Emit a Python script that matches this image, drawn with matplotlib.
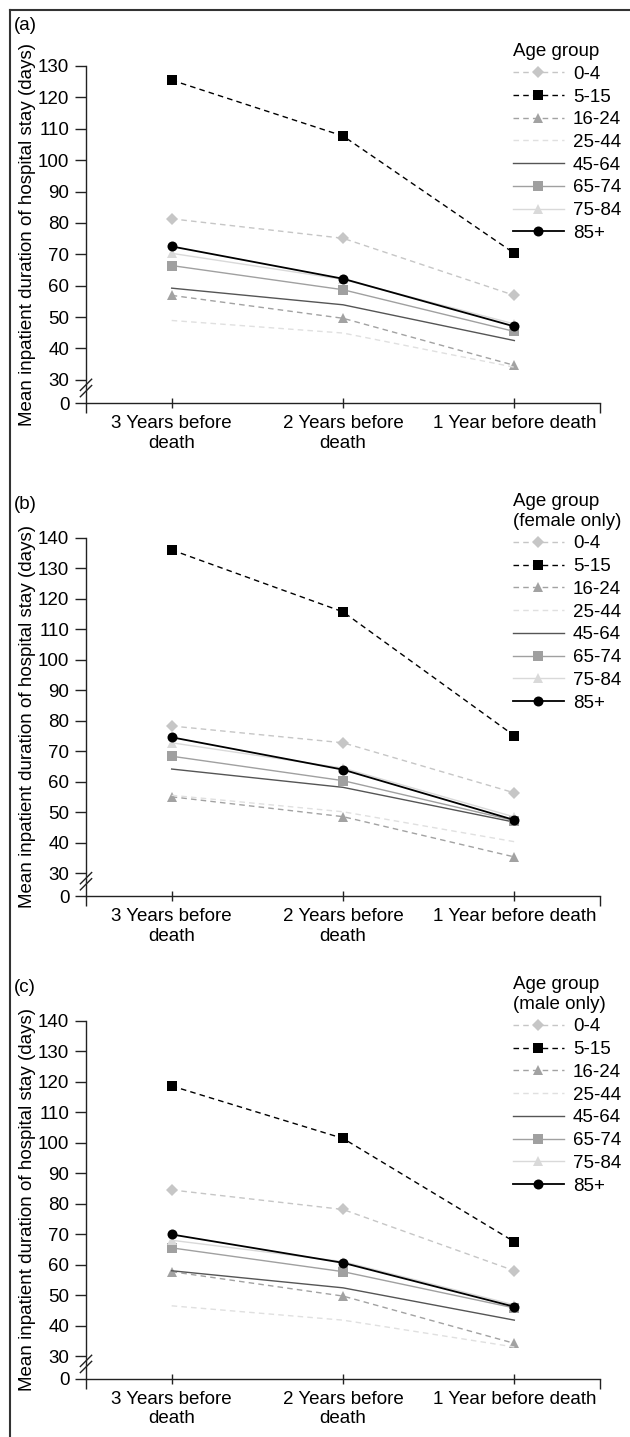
import matplotlib
matplotlib.use("Agg")
import matplotlib.pyplot as plt
import matplotlib.transforms as mtransforms
from matplotlib.lines import Line2D

plt.rcParams['font.family'] = ['Liberation Sans', 'DejaVu Sans']

periods = ["3 Years before\ndeath", "2 Years before\ndeath", "1 Year before death"]
groups = ["0-4", "5-15", "16-24", "25-44", "45-64", "65-74", "75-84", "85+"]

# values per age group, 3 yrs / 2 yrs / 1 yr before death
all_vals = [[81.3, 75.1, 56.9],
            [125.5, 107.7, 70.3],
            [56.9, 49.6, 34.6],
            [48.9, 44.9, 34.0],
            [59.2, 53.9, 42.5],
            [66.4, 58.7, 45.4],
            [70.3, 62.0, 47.8],
            [72.5, 62.2, 47.0]]
female_vals = [[78.3, 72.8, 56.4],
               [136.0, 115.7, 75.1],
               [55.1, 48.6, 35.4],
               [55.6, 50.2, 40.4],
               [64.2, 58.2, 46.8],
               [68.4, 60.4, 47.3],
               [72.8, 64.5, 48.5],
               [74.6, 64.0, 47.5]]
male_vals = [[84.5, 78.1, 58.0],
             [118.6, 101.4, 67.5],
             [57.7, 49.7, 34.2],
             [46.5, 41.8, 33.0],
             [58.0, 52.4, 41.8],
             [65.5, 57.7, 45.8],
             [68.0, 61.0, 46.8],
             [69.9, 60.6, 46.2]]

panels = [("(a)", "Age group", all_vals, 130),
          ("(b)", "Age group\n(female only)", female_vals, 140),
          ("(c)", "Age group\n(male only)", male_vals, 140)]

# style per age group: colour, dashed?, marker, size
styles = [("#c6c6c6", True, "D", 6.5),
          ("#000000", True, "s", 7.2),
          ("#a2a2a2", True, "^", 7.8),
          ("#e0e0e0", True, None, 0),
          ("#555555", False, None, 0),
          ("#a0a0a0", False, "s", 7.2),
          ("#d9d9d9", False, "^", 7.8),
          ("#000000", False, "o", 7.2)]

W, H = 630, 1437
fig = plt.figure(figsize=(W / 100, H / 100), dpi=100)

# frame round the figure (left and top edges)
fig.add_artist(Line2D([10 / W, 10 / W], [0, 1 - 10 / H], color="#333333", lw=1.5))
fig.add_artist(Line2D([10 / W, 1], [1 - 10 / H, 1 - 10 / H], color="#333333", lw=1.5))

# axes boxes in pixels: top (max tick), bottom (zero line)
boxes = [(66, 403), (537.7, 896), (1020.7, 1378.7)]
label_y = [25, 505, 987]
legend_top = [43, 493, 976]
zero_pos = 22.6
fs = 13.5
x = [0, 1, 2]

for k, (tag, ltitle, vals, ymax) in enumerate(panels):
    top, bot = boxes[k]
    ax = fig.add_axes([86 / W, 1 - bot / H, 514 / W, (bot - top) / H])
    handles = []
    for g, v in enumerate(vals):
        col, dashed, mk, ms = styles[g]
        lw = 1.3 if g == 7 else 1.0
        ln, = ax.plot(x, v, color=col, lw=lw, marker=mk, markersize=ms,
                      markeredgewidth=0, clip_on=False, label=groups[g])
        if dashed:
            ln.set_dashes((4, 3))
        handles.append(ln)

    ax.set_xlim(-0.5, 2.5)
    ax.set_ylim(zero_pos, ymax)
    yt = [zero_pos] + list(range(30, ymax + 1, 10))
    ax.set_yticks(yt)
    ax.set_yticklabels(["0"] + [str(t) for t in range(30, ymax + 1, 10)])
    ax.set_xticks(x)
    ax.set_xticklabels(periods)
    ax.set_xticks([-0.5, 2.5], minor=True)
    for s in ["top", "right"]:
        ax.spines[s].set_visible(False)
    for s in ["left", "bottom"]:
        ax.spines[s].set_color("#222222")
        ax.spines[s].set_linewidth(1.0)
    ax.tick_params(axis="y", direction="out", length=8, width=1.0,
                   labelsize=fs, pad=4, colors="#222222", labelcolor="black")
    ax.tick_params(axis="x", which="major", direction="inout", length=7.5,
                   width=1.0, labelsize=fs, pad=5, colors="#222222",
                   labelcolor="black")
    ax.tick_params(axis="x", which="minor", direction="out", length=7.5,
                   width=1.0, colors="#222222")
    ax.patch.set_visible(False)

    ax.set_ylabel("Mean inpatient duration of hospital stay (days)", fontsize=fs)
    ax.yaxis.set_label_coords(-0.098, 0.5)

    # axis break marks
    tr = mtransforms.blended_transform_factory(ax.transAxes, ax.transData)
    ppu = (bot - top) / (ymax - zero_pos)
    for yb in [24.6, 26.6]:
        ax.plot([-0.011, 0.011], [yb, yb + 15 / ppu * 0.75], transform=tr,
                color="#222222", lw=1.0, clip_on=False)

    fig.text(14 / W, 1 - label_y[k] / H, tag, fontsize=fs, va="center", ha="left")

    leg = ax.legend(handles=handles, title=ltitle, loc="upper left",
                    bbox_to_anchor=(513 / W, 1 - legend_top[k] / H),
                    bbox_transform=fig.transFigure, frameon=False,
                    fontsize=fs, title_fontsize=fs, borderpad=0,
                    borderaxespad=0, handlelength=2.7, handletextpad=0.5,
                    labelspacing=0.3, alignment="left")

fig.savefig("out.png", dpi=100)
